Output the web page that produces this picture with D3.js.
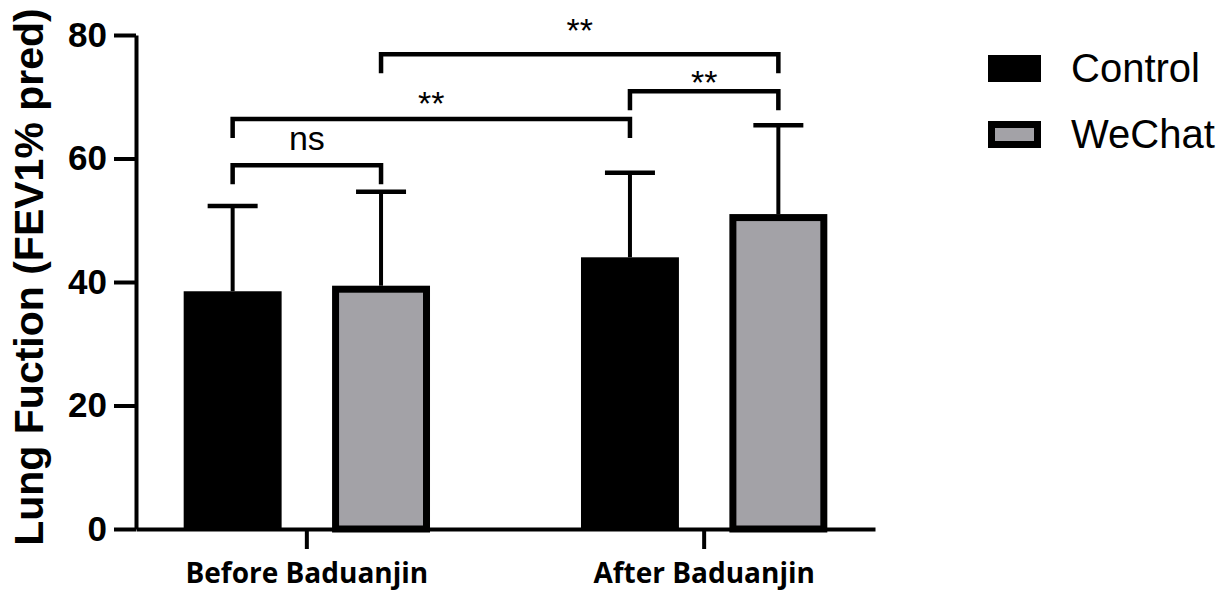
<!DOCTYPE html>
<html>
<head>
<meta charset="utf-8">
<script src="https://cdn.jsdelivr.net/npm/d3@7"></script>
<style>
body { margin:0; background:#fff; }
text { font-family: "Liberation Sans", Arial, sans-serif; }
</style>
</head>
<body>
<div id="chart"></div>
<script>
var groups = ["Before Baduanjin", "After Baduanjin"];
var series = ["Control", "WeChat"];
var controlMean = [38.5, 44.0];
var controlSD = [13.8, 13.7];
var wechatMean = [39.4, 51.0];
var wechatSD = [15.2, 14.4];
var yTicks = [0, 20, 40, 60, 80];
var yTitle = "Lung Fuction (FEV1% pred)";

// significance brackets: [group, series] to [group, series], bracket level, label level (data units)
var compFrom = [[0,0], [0,0], [1,0], [0,1]];
var compTo   = [[0,1], [1,0], [1,1], [1,1]];
var compLevel = [58.9, 66.4, 70.9, 76.9];
var compLabelAt = [61.4, 67.0, 70.4, 78.9];
var compLabel = ["ns", "**", "**", "**"];

var fills = {"Control": "#000", "WeChat": "#a3a2a7"};
var wechatStroke = 7;

var rows = [];
groups.forEach(function(g, i){
  rows.push({group: g, series: "Control", mean: controlMean[i], sd: controlSD[i]});
  rows.push({group: g, series: "WeChat", mean: wechatMean[i], sd: wechatSD[i]});
});

function make_chart()
{
var svg = d3.select("#chart").append("svg")
    .attr("width", 1227)
    .attr("height", 591);

var y = d3.scaleLinear().domain([0, 80]).range([529, 35]);
var x0 = d3.scaleBand().domain(groups).range([136, 875])
    .paddingInner(0.38).paddingOuter(0.12);
var x1 = d3.scaleBand().domain(series).range([0, x0.bandwidth()])
    .paddingInner(0.34);

function cx(gi, si){ return x0(groups[gi]) + x1(series[si]) + x1.bandwidth()/2; }

// bars
svg.append("g").selectAll("rect")
    .data(rows)
    .enter()
    .append("rect")
    .attr("x", function(d){
        var sw = d.series == "WeChat" ? wechatStroke : 0;
        return x0(d.group) + x1(d.series) + sw/2; })
    .attr("y", function(d){
        var sw = d.series == "WeChat" ? wechatStroke : 0;
        return y(d.mean) + sw/2; })
    .attr("width", function(d){
        var sw = d.series == "WeChat" ? wechatStroke : 0;
        return x1.bandwidth() - sw; })
    .attr("height", function(d){
        var sw = d.series == "WeChat" ? wechatStroke : 0;
        return y(0) - y(d.mean) - sw/2; })
    .style("fill", function(d){ return fills[d.series]; })
    .style("stroke", "#000")
    .style("stroke-width", function(d){ return d.series == "WeChat" ? wechatStroke : 0; });

// error bars (upper only)
var eb = svg.append("g").selectAll("g")
    .data(rows)
    .enter()
    .append("g");
eb.append("line")
    .attr("x1", function(d){ return x0(d.group) + x1(d.series) + x1.bandwidth()/2; })
    .attr("x2", function(d){ return x0(d.group) + x1(d.series) + x1.bandwidth()/2; })
    .attr("y1", function(d){ return y(d.mean); })
    .attr("y2", function(d){ return y(d.mean + d.sd); })
    .style("stroke", "#000").style("stroke-width", 4);
eb.append("line")
    .attr("x1", function(d){ return x0(d.group) + x1(d.series) + x1.bandwidth()/2 - 25; })
    .attr("x2", function(d){ return x0(d.group) + x1(d.series) + x1.bandwidth()/2 + 25; })
    .attr("y1", function(d){ return y(d.mean + d.sd); })
    .attr("y2", function(d){ return y(d.mean + d.sd); })
    .style("stroke", "#000").style("stroke-width", 4.5);

// axes
var yAxis = svg.append("g")
    .attr("transform", "translate(136,0)")
    .call(d3.axisLeft(y).tickValues(yTicks).tickSize(22).tickSizeOuter(0).tickPadding(7));
var xAxis = svg.append("g")
    .attr("transform", "translate(0,529)")
    .call(d3.axisBottom(x0).tickSize(20).tickSizeOuter(0).tickPadding(14));

svg.selectAll(".domain, .tick line")
    .style("stroke", "#000").style("stroke-width", 4);
yAxis.selectAll("text")
    .style("font-size", "35px").style("font-weight", "bold").style("fill", "#000");
xAxis.selectAll("text")
    .style("font-family", "'Open Sans', sans-serif")
    .style("font-size", "28px").style("font-weight", "bold").style("fill", "#000");

svg.append("text")
    .attr("transform", "translate(43,277) rotate(-90)")
    .style("text-anchor", "middle")
    .style("font-size", "41px")
    .style("font-weight", "bold")
    .text(yTitle);

// significance brackets
compLabel.forEach(function(lab, i){
    var xa = cx(compFrom[i][0], compFrom[i][1]);
    var xb = cx(compTo[i][0], compTo[i][1]);
    var yl = y(compLevel[i]);
    svg.append("path")
        .attr("d", "M" + xa + "," + (yl + 19) + "V" + yl + "H" + xb + "V" + (yl + 19))
        .style("fill", "none").style("stroke", "#000").style("stroke-width", 4.5);
    svg.append("text")
        .attr("x", (xa + xb)/2)
        .attr("y", y(compLabelAt[i]))
        .style("text-anchor", "middle")
        .style("font-size", "34px")
        .text(lab);
});

// legend
var leg = svg.append("g").selectAll("g")
    .data(series)
    .enter()
    .append("g")
    .attr("transform", function(d, i){ return "translate(988," + (55 + i*66) + ")"; });
leg.append("rect")
    .attr("x", function(d){ return d == "WeChat" ? wechatStroke/2 : 0; })
    .attr("y", function(d){ return d == "WeChat" ? wechatStroke/2 : 0; })
    .attr("width", function(d){ return d == "WeChat" ? 53 - wechatStroke : 53; })
    .attr("height", function(d){ return d == "WeChat" ? 27 - wechatStroke : 27; })
    .style("fill", function(d){ return fills[d]; })
    .style("stroke", "#000")
    .style("stroke-width", function(d){ return d == "WeChat" ? wechatStroke : 0; });
leg.append("text")
    .attr("x", 83)
    .attr("y", 27)
    .style("font-size", "40px")
    .text(function(d){ return d; });
}

make_chart();
</script>
</body>
</html>
